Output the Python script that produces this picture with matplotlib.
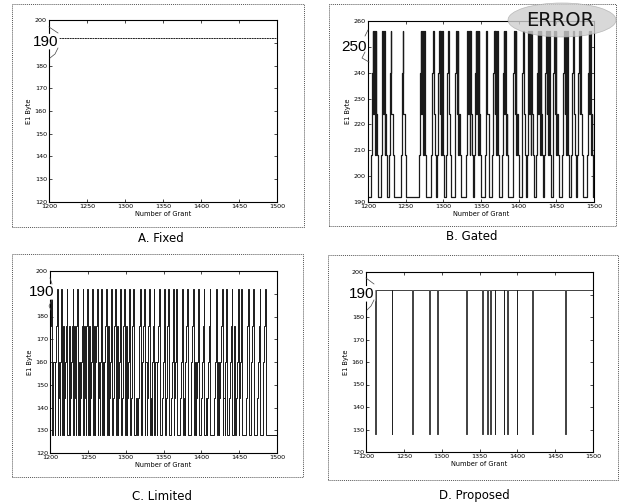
import numpy as np
import matplotlib.pyplot as plt
from matplotlib.patches import Rectangle, Ellipse
from matplotlib.lines import Line2D

W, H = 622, 504

# ---- data ----
grant_ticks = [1200, 1250, 1300, 1350, 1400, 1450, 1500]
yticks_low = [120, 130, 140, 150, 160, 170, 180, 190, 200]
yticks_gated = [190, 200, 210, 220, 230, 240, 250, 260]

# A. Fixed: constant allocation
fixed_x = [1200, 1500]
fixed_y = [192, 192]

# B. Gated: bursts (first grant, last grant) ramping 192 -> 256
gated_start = [1204, 1217, 1228, 1244, 1268, 1284, 1292, 1304, 1315, 1330, 1341,
               1355, 1365, 1378, 1392, 1404, 1411, 1423, 1434, 1445, 1458, 1470,
               1478, 1491]
gated_end = [1212, 1224, 1232, 1249, 1276, 1289, 1300, 1309, 1322, 1338, 1349,
             1359, 1373, 1385, 1399, 1408, 1419, 1431, 1442, 1452, 1466, 1475,
             1484, 1498]
gated_top = [256, 224, 256, 208, 256, 240]

# C. Limited: grants that hit 192, and level reached in the following gap
limited_peaks = [1201, 1209, 1215, 1222, 1230, 1236, 1243, 1249, 1256, 1262, 1268,
                 1274, 1281, 1286, 1293, 1298, 1305, 1310, 1319, 1324, 1331, 1337,
                 1344, 1351, 1356, 1363, 1367, 1375, 1381, 1389, 1396, 1403, 1411,
                 1420, 1427, 1433, 1440, 1449, 1453, 1462, 1468, 1477, 1484]
limited_gap = [160, 160, 176, 176, 176, 160, 176, 176, 176, 160, 160,
               176, 160, 176, 176, 176, 160, 144, 176, 160, 144, 160,
               128, 144, 128, 160, 128, 144, 128, 160, 128, 144, 128,
               160, 144, 128, 176, 128, 128, 128, 128, 128, 128]

# D. Proposed: grants where the allocation dips to 128
proposed_dips = [1212, 1234, 1261, 1283, 1294, 1332, 1353, 1360, 1364, 1370,
                 1382, 1387, 1399, 1420, 1463]


def gated_series():
    xs, ys = [1200], [192]
    for s, e in zip(gated_start, gated_end):
        n = e - s + 1
        mid = max(n - 4, 2)
        seq = [208, 240] + [gated_top[i % len(gated_top)] for i in range(mid)] + [224, 208]
        for k, v in enumerate(seq):
            xs.append(s + k)
            ys.append(v)
        xs.append(s + len(seq))
        ys.append(192)
    xs.append(1500)
    ys.append(192)
    return xs, ys


def limited_series():
    xs, ys = [1200], [176]
    for i, p in enumerate(limited_peaks):
        xs += [p - 3, p - 2, p - 1, p]
        ys += [144, 160, 176, 192]
        xs.append(p + 1)
        ys.append(128)
        if i < len(limited_gap):
            nxt = limited_peaks[i + 1] if i + 1 < len(limited_peaks) else 1500
            m = p + (nxt - p) // 2
            if limited_gap[i] > 128 and m - 1 > p + 1:
                xs += [m - 1, m + 1]
                ys += [limited_gap[i], 128]
    xs.append(1500)
    ys.append(128)
    order = np.argsort(xs, kind='stable')
    return list(np.array(xs)[order]), list(np.array(ys)[order])


def proposed_series():
    xs, ys = [1200], [192]
    for d in proposed_dips:
        xs += [d, d + 1]
        ys += [128, 192]
    xs.append(1500)
    ys.append(192)
    return xs, ys


def add_axes(px_left, px_right, px_top, px_bottom):
    return fig.add_axes([px_left / W, 1 - px_bottom / H,
                         (px_right - px_left) / W, (px_bottom - px_top) / H])


def style(ax, ylim, yticks, big_label, big_y, big_xfrac):
    ax.set_xlim(1200, 1500)
    ax.set_ylim(*ylim)
    ax.set_xticks(grant_ticks)
    ax.set_yticks(yticks)
    ax.set_yticklabels(['' if t == big_label else str(t) for t in yticks])
    ax.tick_params(direction='in', top=True, right=True, length=2, width=0.5,
                   labelsize=4.6, pad=1.5)
    for s in ax.spines.values():
        s.set_linewidth(0.8)
    ax.set_xlabel('Number of Grant', fontsize=4.8, labelpad=1.5)
    ax.set_ylabel('E1 Byte', fontsize=4.8, labelpad=2)
    ax.text(big_xfrac, big_y, str(big_label), transform=ax.get_yaxis_transform(),
            ha='center', va='center', fontsize=11, family='Liberation Sans',
            bbox=dict(boxstyle='round,pad=0.05', fc='white', ec='none'),
            clip_on=False, zorder=10)


def panel_box(x0, y0, x1, y1):
    fig.patches.append(Rectangle((x0 / W, 1 - y1 / H), (x1 - x0) / W, (y1 - y0) / H,
                                 transform=fig.transFigure, fill=False,
                                 ec='#555555', lw=0.7, ls=(0, (1, 1))))


def bracket(x_lab, y_top, y_bot, x_axis):
    fig.lines.append(Line2D([x_lab / W, x_axis / W], [1 - y_top / H, 1 - (y_top - 6) / H],
                            transform=fig.transFigure, color='#444444', lw=0.5))
    fig.lines.append(Line2D([x_lab / W, (x_lab - 3) / W, (x_axis + 1) / W],
                            [1 - y_bot / H, 1 - (y_bot + 6) / H, 1 - (y_bot + 10) / H],
                            transform=fig.transFigure, color='#444444', lw=0.5))


fig = plt.figure(figsize=(W / 100, H / 100), dpi=100)
fig.patch.set_facecolor('white')

panel_box(12, 4, 304, 227)
panel_box(329, 4, 616, 226)
panel_box(12, 254, 303, 477)
panel_box(328, 255, 618, 480)

# A. Fixed
axA = add_axes(49, 277, 20, 202)
axA.plot(fixed_x, fixed_y, color='#222222', lw=0.7, ls=(0, (2, 0.6)))
style(axA, (120, 200), yticks_low, 190, 190.5, -0.015)
bracket(58, 33, 48, 49)

# B. Gated
axB = add_axes(368, 594, 21, 202)
gx, gy = gated_series()
axB.plot(gx, gy, drawstyle='steps-post', color='#1a1a1a', lw=0.9)
style(axB, (190, 260), yticks_gated, 250, 250, -0.06)
bracket(365, 36, 52, 368)

# C. Limited
axC = add_axes(50, 277, 271, 453)
cx, cy = limited_series()
axC.plot(cx, cy, drawstyle='steps-post', color='#1a1a1a', lw=0.7)
style(axC, (120, 200), yticks_low, 190, 190.8, -0.035)
bracket(52, 284, 300, 50)

# D. Proposed
axD = add_axes(366, 593, 272, 452)
dx, dy = proposed_series()
axD.plot(dx, dy, drawstyle='steps-post', color='#222222', lw=0.6)
style(axD, (120, 200), yticks_low, 190, 190.3, -0.018)
bracket(374, 284, 300, 366)

# ERROR callout on the gated panel
fig.patches.append(Ellipse((562 / W, 1 - 20 / H), 108 / W, 34 / H,
                           transform=fig.transFigure, fc='#cfcfcf', ec='#aaaaaa',
                           lw=0.5, alpha=0.8, zorder=5))
fig.text(560 / W, 1 - 21 / H, 'ERROR', ha='center', va='center', fontsize=14,
         color='#111111', zorder=11)

# captions
for label, cx_, cy_ in [('A. Fixed', 161, 238), ('B. Gated', 472, 237),
                        ('C. Limited', 162, 496), ('D. Proposed', 474, 495)]:
    fig.text(cx_ / W, 1 - cy_ / H, label, ha='center', va='center', fontsize=8.5)

fig.savefig('out.png', dpi=100)
